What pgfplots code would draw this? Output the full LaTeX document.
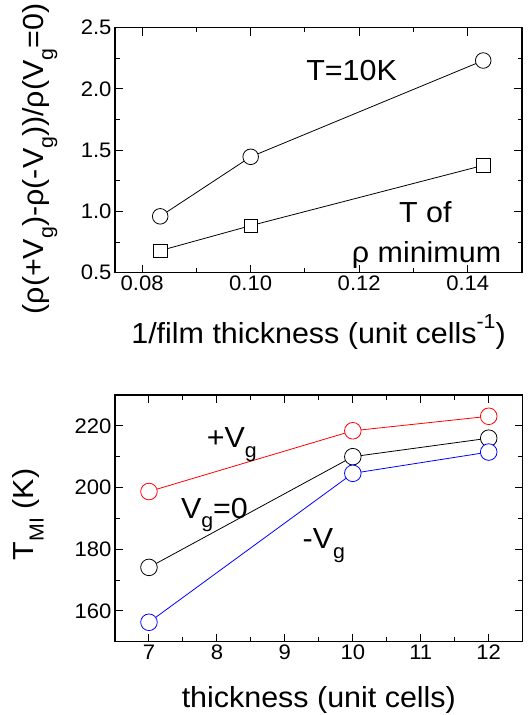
\documentclass[border=0pt]{standalone}
\usepackage{pgfplots}
\pgfplotsset{compat=1.18}
\usepackage{fontspec}
\setmainfont{Liberation Sans}[FakeStretch=1.05]

% Origin-style sub/superscripts
\newcommand{\sub}[1]{\raisebox{-0.34em}{\scalebox{0.7}{#1}}}
\newcommand{\super}[1]{\raisebox{0.55em}{\scalebox{0.7}{#1}}}
\newcommand{\labfont}{\fontsize{29}{33}\selectfont}

\pgfplotsset{
  panel/.style={
    scale only axis,
    axis line style={line width=1.4pt},
    tick style={line width=1pt, black},
    major tick length=8pt,
    minor tick length=4.5pt,
    tick align=inside,
    minor x tick num=1, minor y tick num=1,
    tick label style={font=\fontsize{21}{25}\selectfont},
    label style={font=\labfont},
    /pgf/number format/assume math mode=true,
    scaled ticks=false,
    clip=false,
  },
}

\begin{document}
\begin{tikzpicture}
\path[use as bounding box] (0,0) rectangle (531pt,715pt);

% top panel
\begin{axis}[panel, at={(115pt,442.3pt)}, anchor=south west,
  width=407pt, height=245pt,
  xmin=0.075, xmax=0.15, ymin=0.5, ymax=2.5,
  xtick={0.08,0.10,0.12,0.14}, ytick={0.5,1.0,1.5,2.0,2.5},
  xticklabel style={/pgf/number format/.cd, fixed, fixed zerofill, precision=2},
  yticklabel style={/pgf/number format/.cd, fixed, fixed zerofill, precision=1},
  xlabel={1/film thickness (unit cells\super{-1})},
  ylabel={(ρ(+V\sub{g})-ρ(-V\sub{g}))/ρ(V\sub{g}=0)},
  xlabel style={at={(axis description cs:0.5,-0.291)}, anchor=base},
  ylabel style={at={(axis description cs:-0.176,0.464)}, anchor=base},
]
\addplot[black, line width=0.8pt, mark=*, mark size=7.8pt,
  mark options={fill=white, line width=0.8pt}]
  coordinates {(0.08333,0.96) (0.1,1.446) (0.142857,2.232)};
\addplot[black, line width=0.8pt, mark=square*, mark size=6.7pt,
  mark options={fill=white, line width=0.8pt}]
  coordinates {(0.08333,0.68) (0.1,0.884) (0.142857,1.376)};
\node[anchor=base west, font=\labfont] at (axis cs:0.1096,2.073) {T=10K};
\node[anchor=base west, font=\labfont] at (axis cs:0.1267,0.911) {T of};
\node[anchor=base west, font=\labfont] at (axis cs:0.118,0.587) {ρ minimum};
\end{axis}

% bottom panel
\begin{axis}[panel, at={(115pt,73.3pt)}, anchor=south west,
  width=407.7pt, height=246.7pt,
  xmin=6.5, xmax=12.5, ymin=150, ymax=230,
  xtick={7,8,9,10,11,12}, ytick={160,180,200,220},
  xlabel={thickness (unit cells)},
  ylabel={T\sub{MI} (K)},
  xlabel style={at={(axis description cs:0.5,-0.2675)}, anchor=base},
  ylabel style={at={(axis description cs:-0.199,0.516)}, anchor=base},
]
\addplot[red, line width=0.8pt, mark=*, mark size=8.3pt,
  mark options={fill=white, line width=0.8pt}]
  coordinates {(7,198.7) (10,218.4) (12,223.1)};
\addplot[black, line width=0.8pt, mark=*, mark size=8.3pt,
  mark options={fill=white, line width=0.8pt}]
  coordinates {(7,174.1) (10,210.0) (12,216.0)};
\addplot[blue, line width=0.8pt, mark=*, mark size=8.3pt,
  mark options={fill=white, line width=0.8pt}]
  coordinates {(7,156.3) (10,204.6) (12,211.5)};
\node[anchor=base west, font=\labfont] at (axis cs:7.80,212.9) {+V\sub{g}};
\node[anchor=base west, font=\labfont] at (axis cs:7.42,190.1) {V\sub{g}=0};
\node[anchor=base west, font=\labfont] at (axis cs:9.21,180.3) {-V\sub{g}};
\end{axis}
\end{tikzpicture}
\end{document}
